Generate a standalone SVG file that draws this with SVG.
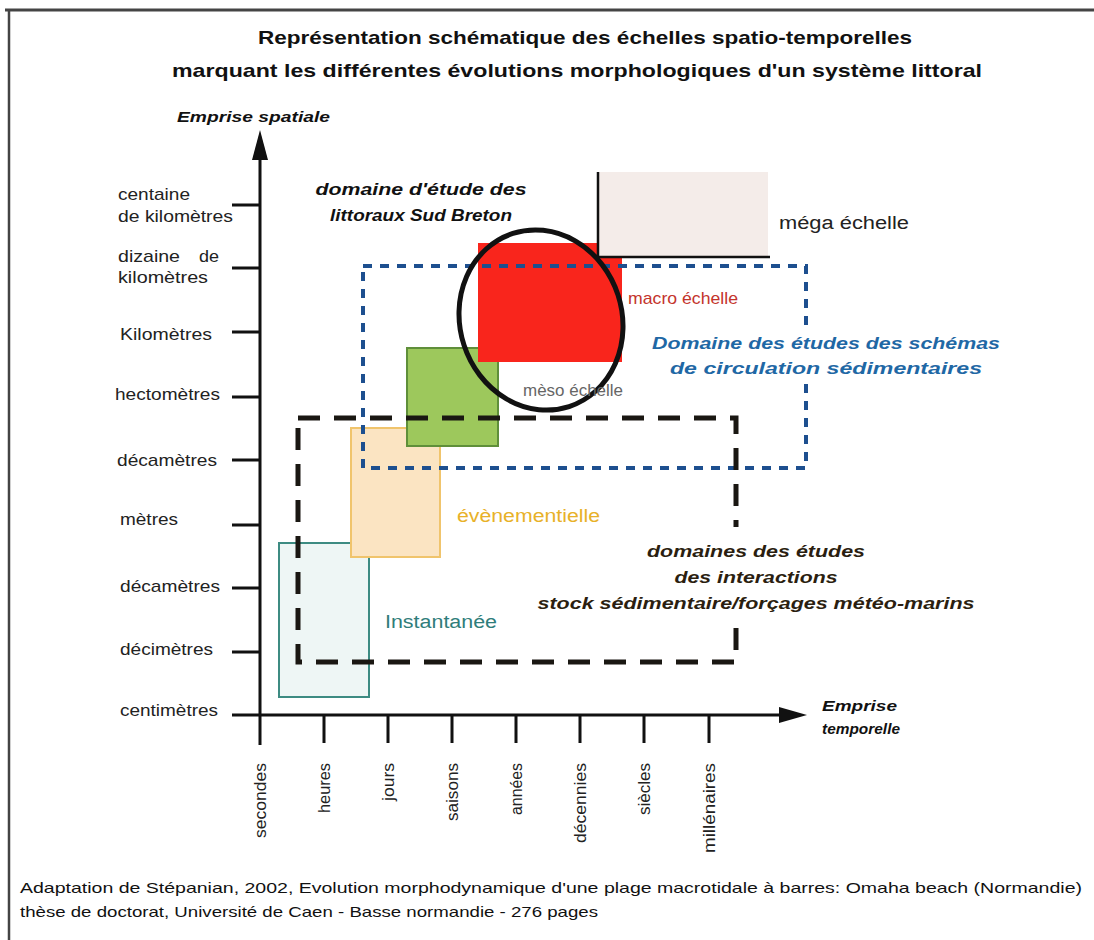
<svg xmlns="http://www.w3.org/2000/svg" width="1094" height="940" viewBox="0 0 1094 940">
<style>
text{font-family:"Liberation Sans",Arial,sans-serif}
.ttl{font-size:19px;font-weight:bold;fill:#111}
.yl{font-size:17px;fill:#222}
.xl{font-size:16px;fill:#222}
.bi{font-weight:bold;font-style:italic}
.ax{stroke:#111;stroke-width:3;fill:none}
.tk{stroke:#111;stroke-width:3}
.foot{font-size:15px;fill:#111}
</style>
<rect width="1094" height="940" fill="#fff"/>
<g id="frame">
<line x1="5" y1="10" x2="1094" y2="10" stroke="#444" stroke-width="3"/>
<line x1="9" y1="10" x2="9" y2="940" stroke="#444" stroke-width="2.5"/>
</g>
<g id="title">
<text class="ttl" x="585" y="44" text-anchor="middle" textLength="654" lengthAdjust="spacingAndGlyphs">Représentation schématique des échelles spatio-temporelles</text>
<text class="ttl" x="577" y="77" text-anchor="middle" textLength="810" lengthAdjust="spacingAndGlyphs">marquant les différentes évolutions morphologiques d'un système littoral</text>
</g>
<g id="boxes">
<rect id="instantanee" x="279" y="543" width="90" height="154" fill="#eef6f5" stroke="#3d8b82" stroke-width="2"/>
<rect id="evenementielle" x="351" y="428" width="89" height="129" fill="#fbe4c2" stroke="#f0c46c" stroke-width="2"/>
<rect id="meso" x="407" y="348" width="91" height="98" fill="#9dc85c" stroke="#5f8f3a" stroke-width="2"/>
<rect id="macro" x="478" y="243" width="144" height="119" fill="#f9251c"/>
<g id="mega">
<rect x="598" y="172" width="170" height="85" fill="#f4ece9"/>
<path d="M598 172 V257 H770" fill="none" stroke="#111" stroke-width="2.5"/>
</g>
</g>
<g id="domains">
<rect id="sediment-circ" x="363" y="266" width="443" height="202" fill="none" stroke="#1d4f8f" stroke-width="4" stroke-dasharray="9 8"/>
<rect id="interactions" x="298" y="418" width="438" height="244" fill="none" stroke="#1a1712" stroke-width="5" stroke-dasharray="22 14"/>
<ellipse id="sud-breton" cx="541" cy="320" rx="81" ry="91" transform="rotate(-18 541 320)" fill="none" stroke="#111" stroke-width="5"/>
</g>
<g id="axes">
<path class="ax" d="M260 158 V745"/>
<polygon points="260,130 252,160 268,160" fill="#111"/>
<path class="ax" d="M232 715 H782"/>
<polygon points="807,715 779,707 779,723" fill="#111"/>
<path class="tk" d="M232 205H260M232 268H260M232 332H260M232 397H260M232 460H260M232 525H260M232 588H260M232 652H260"/>
<path class="tk" d="M324 715V743M388 715V743M452 715V743M516 715V743M580 715V743M644 715V743M709 715V743"/>
</g>
<g id="y-labels">
<text class="yl" x="118" y="200" textLength="72" lengthAdjust="spacingAndGlyphs">centaine</text>
<text class="yl" x="118" y="222" textLength="115" lengthAdjust="spacingAndGlyphs">de kilomètres</text>
<text class="yl" x="118" y="262" textLength="62" lengthAdjust="spacingAndGlyphs">dizaine</text>
<text class="yl" x="199" y="262" textLength="20" lengthAdjust="spacingAndGlyphs">de</text>
<text class="yl" x="118" y="283" textLength="90" lengthAdjust="spacingAndGlyphs">kilomètres</text>
<text class="yl" x="120" y="340" textLength="92" lengthAdjust="spacingAndGlyphs">Kilomètres</text>
<text class="yl" x="115" y="400" textLength="105" lengthAdjust="spacingAndGlyphs">hectomètres</text>
<text class="yl" x="117" y="466" textLength="100" lengthAdjust="spacingAndGlyphs">décamètres</text>
<text class="yl" x="120" y="525" textLength="58" lengthAdjust="spacingAndGlyphs">mètres</text>
<text class="yl" x="120" y="592" textLength="100" lengthAdjust="spacingAndGlyphs">décamètres</text>
<text class="yl" x="120" y="655" textLength="93" lengthAdjust="spacingAndGlyphs">décimètres</text>
<text class="yl" x="120" y="716" textLength="98" lengthAdjust="spacingAndGlyphs">centimètres</text>
</g>
<g id="x-labels">
<text class="xl" transform="translate(266 763) rotate(-90)" text-anchor="end" textLength="75" lengthAdjust="spacingAndGlyphs">secondes</text>
<text class="xl" transform="translate(330 763) rotate(-90)" text-anchor="end" textLength="50" lengthAdjust="spacingAndGlyphs">heures</text>
<text class="xl" transform="translate(394 763) rotate(-90)" text-anchor="end" textLength="38" lengthAdjust="spacingAndGlyphs">jours</text>
<text class="xl" transform="translate(458 763) rotate(-90)" text-anchor="end" textLength="58" lengthAdjust="spacingAndGlyphs">saisons</text>
<text class="xl" transform="translate(522 763) rotate(-90)" text-anchor="end" textLength="52" lengthAdjust="spacingAndGlyphs">années</text>
<text class="xl" transform="translate(586 763) rotate(-90)" text-anchor="end" textLength="80" lengthAdjust="spacingAndGlyphs">décennies</text>
<text class="xl" transform="translate(650 763) rotate(-90)" text-anchor="end" textLength="52" lengthAdjust="spacingAndGlyphs">siècles</text>
<text class="xl" transform="translate(715 763) rotate(-90)" text-anchor="end" textLength="90" lengthAdjust="spacingAndGlyphs">millénaires</text>
</g>
<g id="labels">
<text class="bi" x="177" y="122" font-size="15" fill="#111" textLength="153" lengthAdjust="spacingAndGlyphs">Emprise spatiale</text>
<text class="bi" x="421" y="195" font-size="17" fill="#111" text-anchor="middle" textLength="211" lengthAdjust="spacingAndGlyphs">domaine d'étude des</text>
<text class="bi" x="421" y="221" font-size="17" fill="#111" text-anchor="middle" textLength="182" lengthAdjust="spacingAndGlyphs">littoraux Sud Breton</text>
<text x="779" y="229" font-size="18" fill="#222" textLength="130" lengthAdjust="spacingAndGlyphs">méga échelle</text>
<text x="628" y="304" font-size="17" fill="#c4342c" textLength="110" lengthAdjust="spacingAndGlyphs">macro échelle</text>
<rect x="648" y="328" width="356" height="52" fill="#fff"/>
<text class="bi" x="826" y="349" font-size="17" fill="#1f68a5" text-anchor="middle" textLength="348" lengthAdjust="spacingAndGlyphs">Domaine des études des schémas</text>
<text class="bi" x="826" y="374" font-size="17" fill="#1f68a5" text-anchor="middle" textLength="312" lengthAdjust="spacingAndGlyphs">de circulation sédimentaires</text>
<text x="523" y="396" font-size="17" fill="#666" textLength="100" lengthAdjust="spacingAndGlyphs">mèso échelle</text>
<text x="457" y="522" font-size="18" fill="#e8b128" textLength="143" lengthAdjust="spacingAndGlyphs">évènementielle</text>
<rect x="534" y="527" width="446" height="98" fill="#fff"/>
<text class="bi" x="756" y="557" font-size="17" fill="#2b1e10" text-anchor="middle" textLength="218" lengthAdjust="spacingAndGlyphs">domaines des études</text>
<text class="bi" x="756" y="583" font-size="17" fill="#2b1e10" text-anchor="middle" textLength="163" lengthAdjust="spacingAndGlyphs">des interactions</text>
<text class="bi" x="756" y="609" font-size="17" fill="#2b1e10" text-anchor="middle" textLength="437" lengthAdjust="spacingAndGlyphs">stock sédimentaire/forçages météo-marins</text>
<text x="385" y="628" font-size="18" fill="#2f7d7a" textLength="112" lengthAdjust="spacingAndGlyphs">Instantanée</text>
<text class="bi" x="822" y="711" font-size="15" fill="#111" textLength="75" lengthAdjust="spacingAndGlyphs">Emprise</text>
<text class="bi" x="822" y="734" font-size="15" fill="#111" textLength="78" lengthAdjust="spacingAndGlyphs">temporelle</text>
</g>
<g id="footer">
<text class="foot" x="20" y="893" textLength="1062" lengthAdjust="spacingAndGlyphs">Adaptation de Stépanian, 2002, Evolution morphodynamique d'une plage macrotidale à barres: Omaha beach (Normandie)</text>
<text class="foot" x="20" y="917" textLength="578" lengthAdjust="spacingAndGlyphs">thèse de doctorat, Université de Caen - Basse normandie - 276 pages</text>
</g>
</svg>
